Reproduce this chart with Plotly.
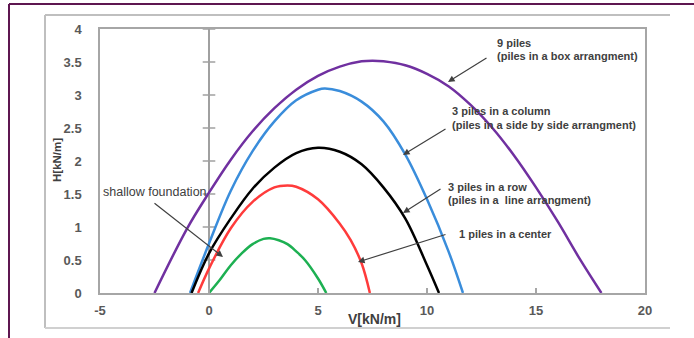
import plotly.graph_objects as go

# ---- data ----
box9_v = [-2.5, -1, 0, 1, 2, 3, 4, 5, 6, 7, 7.5, 8, 9, 10, 11, 12, 13, 14, 15, 16, 17, 18]
box9_h = [0, 0.98, 1.52, 2.02, 2.45, 2.8, 3.08, 3.29, 3.43, 3.51, 3.52, 3.51, 3.45, 3.32, 3.13, 2.85, 2.5, 2.08, 1.6, 1.08, 0.52, 0]

col3_v = [-0.87, 0, 1, 2, 3, 4, 5, 5.3, 6, 7, 8, 9, 10, 11, 11.65]
col3_h = [0, 0.75, 1.55, 2.15, 2.6, 2.92, 3.08, 3.1, 3.06, 2.9, 2.6, 2.1, 1.42, 0.62, 0]

row3_v = [-0.8, 0, 1, 2, 3, 4, 5, 6, 7, 8, 9, 10, 10.55]
row3_h = [0, 0.6, 1.13, 1.58, 1.9, 2.12, 2.2, 2.14, 1.95, 1.6, 1.13, 0.42, 0]

pile1_v = [-0.5, 0, 1, 2, 3, 3.6, 4, 5, 6, 6.5, 7, 7.38]
pile1_h = [0, 0.37, 0.98, 1.38, 1.6, 1.63, 1.61, 1.42, 1.05, 0.8, 0.45, 0]

shallow_v = [0, 0.5, 1, 1.5, 2, 2.5, 2.8, 3.2, 3.6, 4, 4.4, 5, 5.38]
shallow_h = [0, 0.2, 0.42, 0.6, 0.74, 0.82, 0.83, 0.8, 0.74, 0.63, 0.5, 0.22, 0]

x_ticks = [-5, 0, 5, 10, 15, 20]
y_ticks = [0, 0.5, 1, 1.5, 2, 2.5, 3, 3.5, 4]
y_tick_text = ["0", "0.5", "1", "1.5", "2", "2.5", "3", "3.5", "4"]

series = [
    (box9_v, box9_h, "#7030A0", "9 piles"),
    (col3_v, col3_h, "#3A8DDB", "3 piles in a column"),
    (row3_v, row3_h, "#000000", "3 piles in a row"),
    (pile1_v, pile1_h, "#FF3B3B", "1 piles in a center"),
    (shallow_v, shallow_h, "#1DB052", "shallow foundation"),
]

W, H = 694, 338
L, R, T, B = 100, 645, 29, 293
FAM = "Liberation Sans, Arial, sans-serif"


def xp(px):
    return (px - L) / (R - L)


def yp(py):
    return (B - py) / (B - T)


def xd(px):
    return -5 + (px - L) / (R - L) * 25


def yd(py):
    return (B - py) / (B - T) * 4


fig = go.Figure()

# vertical axis line at V=0 with cross ticks
fig.add_trace(go.Scatter(x=[0, 0], y=[0, 4], mode="lines",
                         line=dict(color="#A0A0A0", width=2), hoverinfo="skip", showlegend=False))
fig.add_trace(go.Scatter(x=[0] * (len(y_ticks) - 1), y=y_ticks[1:], mode="markers",
                         marker=dict(symbol="line-ew", size=9, line=dict(color="#A0A0A0", width=1.5)),
                         hoverinfo="skip", showlegend=False, cliponaxis=False))

for vx, hy, col, name in series:
    fig.add_trace(go.Scatter(x=vx, y=hy, mode="lines", name=name,
                             line=dict(color=col, width=2.5, shape="spline", smoothing=1.0),
                             showlegend=False))

tfont = dict(family=FAM, size=13, color="#595959", weight="bold")
afont = dict(family=FAM, size=11, color="#404040", weight="bold")

fig.update_layout(
    width=W, height=H,
    margin=dict(l=L, r=W - R, t=T, b=H - B),
    paper_bgcolor="white", plot_bgcolor="white",
    xaxis=dict(range=[-5, 20], tickvals=x_ticks, ticktext=[str(v) for v in x_ticks],
               showgrid=False, zeroline=False, showline=True, linecolor="#A6A6A6", linewidth=1.5,
               mirror=True, ticks="inside", ticklen=5, tickcolor="#A6A6A6", tickwidth=1.5,
               tickfont=tfont, ticklabelstandoff=5),
    yaxis=dict(range=[0, 4], tickvals=y_ticks, ticktext=y_tick_text,
               showgrid=False, zeroline=False, showline=True, linecolor="#A6A6A6", linewidth=1.5,
               mirror=True, ticks="", tickfont=tfont, ticklabelstandoff=14),
)

# frame lines
shapes = [
    dict(type="line", xref="paper", yref="paper", x0=xp(9), x1=xp(694), y0=yp(4), y1=yp(4),
         line=dict(color="#5E1650", width=2)),
    dict(type="line", xref="paper", yref="paper", x0=xp(9), x1=xp(9), y0=yp(4), y1=yp(338),
         line=dict(color="#5E1650", width=2)),
    dict(type="line", xref="paper", yref="paper", x0=xp(45), x1=xp(670), y0=yp(15), y1=yp(15),
         line=dict(color="#BFBFBF", width=2)),
    dict(type="line", xref="paper", yref="paper", x0=xp(45), x1=xp(45), y0=yp(15), y1=yp(328),
         line=dict(color="#BFBFBF", width=2)),
    dict(type="line", xref="paper", yref="paper", x0=xp(45), x1=xp(670), y0=yp(328), y1=yp(328),
         line=dict(color="#D0D0D0", width=2)),
]
fig.update_layout(shapes=shapes)

anns = []
# axis titles
anns.append(dict(xref="paper", yref="paper", x=xp(57), y=yp(160), text="H[kN/m]", showarrow=False,
                 xanchor="center", yanchor="middle", textangle=-90,
                 font=dict(family=FAM, size=11.5, color="#404040", weight="bold")))
anns.append(dict(xref="paper", yref="paper", x=xp(374), y=yp(319), text="V[kN/m]", showarrow=False,
                 xanchor="center", yanchor="middle",
                 font=dict(family=FAM, size=14, color="#404040", weight="bold")))

labels = [
    ("9 piles", 495, 43),
    ("(piles in a box arrangment)", 495, 56),
    ("3 piles in a column", 450, 111),
    ("(piles in a side by side arrangment)", 450, 125),
    ("3 piles in a row", 446, 187),
    ("(piles in a&nbsp; line arrangment)", 446, 200),
    ("1 piles in a center", 457, 234),
]
for txt, px, py in labels:
    anns.append(dict(xref="paper", yref="paper", x=xp(px), y=yp(py), text=txt, showarrow=False,
                     xanchor="left", yanchor="middle", font=afont))
anns.append(dict(xref="paper", yref="paper", x=xp(101), y=yp(192), text="shallow foundation",
                 showarrow=False, xanchor="left", yanchor="middle",
                 font=dict(family=FAM, size=12.5, color="#404040")))

arrows = [
    ((488, 57), (448, 82)),
    ((447, 128), (403, 155)),
    ((442, 188), (403, 213)),
    ((447, 234), (358, 262)),
    ((153, 202), (223, 257)),
]
for (tx, ty), (hx, hy) in arrows:
    anns.append(dict(x=xd(hx), y=yd(hy), ax=xd(tx), ay=yd(ty), axref="x", ayref="y",
                     xref="x", yref="y", text="", showarrow=True, arrowhead=2, arrowsize=1.1,
                     arrowwidth=1.2, arrowcolor="#404040"))
fig.update_layout(annotations=anns)

fig.write_html("out.html", config={"displayModeBar": False},
               post_script="document.body.style.margin='0';")
